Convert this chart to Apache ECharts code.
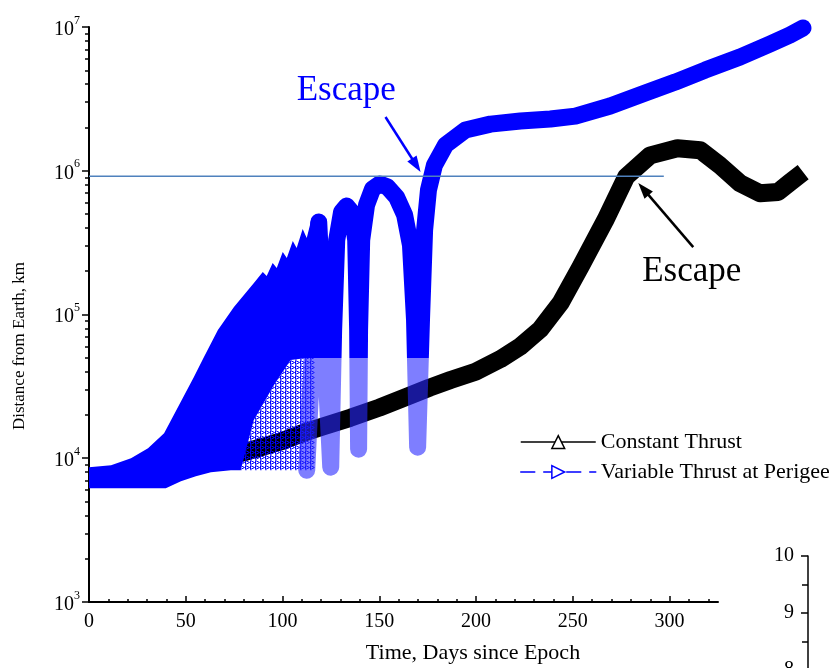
<!DOCTYPE html>
<html>
<head>
<meta charset="utf-8">
<script src="https://cdn.jsdelivr.net/npm/echarts@6/dist/echarts.min.js"></script>
<style>
  html, body { margin: 0; padding: 0; background: #ffffff; }
  #chart { width: 832px; height: 668px; }
</style>
</head>
<body>
<div id="chart"></div>
<script>
// ---------------- data ----------------
// Constant thrust: distance from Earth (km) vs time (days)
const ctDays = [0, 20, 40, 60, 80, 100, 109.4, 120, 135, 150, 165, 176, 186.8, 199.7, 212.6, 222.9, 233.2, 243.6, 253.9, 266.8, 277.6, 290, 304, 315.8, 326, 336.4, 346.7, 356, 362.2, 369];
const ctKm = [7200, 7600, 8400, 9500, 11000, 13200, 14800, 16500, 19100, 22500, 27000, 31000, 35000, 40000, 49000, 60000, 79000, 120000, 214000, 454000, 910000, 1280000, 1435000, 1390000, 1090000, 818000, 697000, 712000, 830000, 977000];

// Variable thrust at perigee: envelope of the many early orbits
const denseTopDays = [0, 11.4, 21.7, 30.5, 38.8, 46.0, 54.2, 59.4, 66.6, 74.9, 85.2, 89.8, 91.8, 94.9, 97.0, 100.1, 102.2, 105.3, 107.3, 110.4, 112.5, 115.1, 116.6];
const denseTopKm = [8670, 8950, 10000, 11750, 14950, 22700, 36700, 50600, 77900, 112600, 165400, 197200, 185000, 228000, 210400, 271800, 246900, 324300, 289700, 392900, 340200, 468700, 386600];
const perigeeDays = [0, 39.7, 47.5, 55.2, 63.0, 73.3, 116.6];
const perigeeKm = [6190, 6190, 6930, 7505, 8000, 8260, 8260];
// lower limit of the densely sampled part (below it only sparse perigee passes)
const floorDays = [0, 39.7, 47.5, 55.2, 63.0, 73.3, 78.4, 85.1, 95.5, 104.2, 116.6];
const floorKm = [6190, 6190, 6930, 7505, 8000, 8260, 8260, 18400, 32260, 48200, 50600];

// Variable thrust at perigee: last resolved orbits and escape path
const vtDays = [112.5, 118.7, 124.9, 126.4, 128.0, 130.5, 133.1, 135.7, 137.8, 138.8, 139.3, 139.8, 140.9, 143.4, 146.5, 150.2, 154.3, 158.9, 163.1, 166.1, 168.2, 169.8, 171.8, 173.4, 175.4, 178.5, 184.2, 194.5, 207.4, 222.9, 238.4, 251.3, 269.3, 287.4, 302.9, 318.4, 336.4, 351.9, 362.2, 368.9];
const vtKm = [8260, 439500, 8670, 77900, 329500, 516000, 568000, 516000, 329500, 77900, 11560, 77900, 329500, 577000, 746000, 808000, 770000, 656000, 492000, 304000, 91400, 11940, 91400, 386500, 734000, 1096000, 1510000, 1920000, 2110000, 2220000, 2290000, 2400000, 2820000, 3470000, 4140000, 5020000, 6180000, 7620000, 8800000, 9840000];

// Escape radius reference line
const soiDays = [0, 297];
const soiKm = [915000, 915000];

// Axis ticks
const xTickValues = [0, 50, 100, 150, 200, 250, 300];
const yDecades = [1e3, 1e4, 1e5, 1e6, 1e7];
const sideTickValues = [7, 8, 9, 10];

// ---------------- helpers ----------------
const SERIF = '"Liberation Serif", "Times New Roman", Times, serif';
const BLUE = '#0000ff';
const SPARSE_BLUE = 'rgba(40,40,255,0.6)';
const SPARSE_LIMIT_KM = 50000;
const zip = (a, b) => a.map((v, i) => [v, b[i]]);

const yMinor = [];
for (let e = 3; e < 7; e++) for (let k = 2; k <= 9; k++) yMinor.push(k * Math.pow(10, e));

// hollow right-pointing triangles used where perigee passes are sparse
const pat = document.createElement('canvas');
pat.width = 5; pat.height = 5;
(function () {
  const g = pat.getContext('2d');
  g.strokeStyle = BLUE; g.lineWidth = 1;
  g.beginPath(); g.moveTo(0.5, 0.5); g.lineTo(4.5, 2.5); g.lineTo(0.5, 4.5); g.closePath(); g.stroke();
})();

function bandRenderer(topD, topV, botD, botV, fill) {
  return function (params, api) {
    if (params.dataIndex !== 0) return null;
    const pts = [];
    for (let i = 0; i < topD.length; i++) pts.push(api.coord([topD[i], topV[i]]));
    for (let i = botD.length - 1; i >= 0; i--) pts.push(api.coord([botD[i], botV[i]]));
    return { type: 'polygon', shape: { points: pts }, style: { fill: fill, stroke: null } };
  };
}

const hollowFrom = 73.3;
const hfD = floorDays.filter(d => d >= hollowFrom);
const hfV = floorKm.filter((v, i) => floorDays[i] >= hollowFrom);
const hpD = perigeeDays.filter(d => d >= hollowFrom);
const hpV = perigeeKm.filter((v, i) => perigeeDays[i] >= hollowFrom);

// visible axis spans 0..325 days, plotted data run on to ~370 days at the same scale
const X_AXIS_MAX = 325;
const X_DATA_MAX = 370;
const PLOT_LEFT = 89, PLOT_RIGHT_EDGE = 718;
const pxPerDay = (PLOT_RIGHT_EDGE - PLOT_LEFT) / X_AXIS_MAX;

const chart = echarts.init(document.getElementById('chart'), null, { renderer: 'canvas' });

const axisBlack = { color: '#000', width: 2 };
const tickBlack = { color: '#000', width: 1.5 };

chart.setOption({
  animation: false,
  backgroundColor: '#ffffff',
  grid: [
    { left: PLOT_LEFT, width: PLOT_RIGHT_EDGE - PLOT_LEFT, top: 27, bottom: 66, outerBoundsMode: 'none' },
    { left: PLOT_LEFT, width: X_DATA_MAX * pxPerDay, top: 27, bottom: 66, outerBoundsMode: 'none' },
    { left: 808, top: 556, width: 100, height: 171, outerBoundsMode: 'none' }
  ],
  xAxis: [
    {
      type: 'value', gridIndex: 0, min: 0, max: X_AXIS_MAX, interval: 50,
      axisLine: { show: true, lineStyle: axisBlack },
      axisTick: { show: true, inside: true, length: 6, customValues: xTickValues, lineStyle: tickBlack },
      minorTick: { show: true, splitNumber: 5, length: 3, lineStyle: tickBlack },
      axisLabel: { customValues: xTickValues, fontFamily: SERIF, fontSize: 20, color: '#000', margin: 10 },
      splitLine: { show: false }
    },
    { type: 'value', gridIndex: 1, min: 0, max: X_DATA_MAX, show: false },
    { type: 'value', gridIndex: 2, min: 0, max: 1, show: false }
  ],
  yAxis: [
    {
      type: 'log', logBase: 10, gridIndex: 0, min: 1e3, max: 1e7,
      axisLine: { show: true, lineStyle: axisBlack },
      axisTick: { show: true, inside: false, length: 7, customValues: yDecades, lineStyle: tickBlack },
      axisLabel: {
        customValues: yDecades, margin: 9,
        formatter: v => '{b|10}{s|' + Math.round(Math.log10(v)) + '}',
        rich: {
          b: { fontFamily: SERIF, fontSize: 20, color: '#000', verticalAlign: 'bottom', padding: [5, 0, 0, 0] },
          s: { fontFamily: SERIF, fontSize: 12, color: '#000', verticalAlign: 'top' }
        }
      },
      splitLine: { show: false }
    },
    {
      type: 'log', logBase: 10, gridIndex: 0, min: 1e3, max: 1e7, position: 'left',
      axisLine: { show: false },
      axisTick: { show: true, inside: false, length: 4, customValues: yMinor, lineStyle: tickBlack },
      axisLabel: { show: false },
      splitLine: { show: false }
    },
    { type: 'log', logBase: 10, gridIndex: 1, min: 1e3, max: 1e7, show: false },
    {
      type: 'value', gridIndex: 2, min: 7, max: 10, interval: 1, position: 'left',
      axisLine: { show: true, lineStyle: tickBlack },
      axisTick: { show: true, inside: false, length: 7, lineStyle: tickBlack },
      minorTick: { show: true, splitNumber: 2, length: 6, lineStyle: tickBlack },
      axisLabel: { fontFamily: SERIF, fontSize: 20, color: '#000', margin: 14, customValues: sideTickValues },
      splitLine: { show: false }
    }
  ],
  legend: {
    orient: 'vertical', left: 515, top: 426,
    itemWidth: 75, itemHeight: 16, itemGap: 8,
    selectedMode: false,
    textStyle: { fontFamily: SERIF, fontSize: 22, color: '#000' },
    data: [
      { name: 'Constant Thrust', itemStyle: { color: '#fff', borderColor: '#000', borderWidth: 1.5 }, lineStyle: { color: '#000', width: 1.5, type: 'solid' } },
      { name: 'Variable Thrust at Perigee', itemStyle: { color: '#fff', borderColor: BLUE, borderWidth: 1.5 }, lineStyle: { color: BLUE, width: 1.5, type: [14, 9] } }
    ]
  },
  graphic: [
    { type: 'text', x: 473, y: 653, style: { text: 'Time, Days since Epoch', font: '22px ' + SERIF, fill: '#000', textAlign: 'center', textVerticalAlign: 'middle' } },
    { type: 'text', x: 20, y: 346, rotation: Math.PI / 2, style: { text: 'Distance from Earth, km', font: '17px ' + SERIF, fill: '#000', textAlign: 'center', textVerticalAlign: 'middle' } }
  ],
  series: [
    {
      id: 'vtOrbit', name: 'Variable Thrust at Perigee', type: 'line', z: 5,
      xAxisIndex: 1, yAxisIndex: 2,
      data: zip(vtDays, vtKm), silent: true,
      symbol: 'path://M0,0L10,5L0,10Z', showSymbol: false,
      lineStyle: { color: BLUE, width: 17, join: 'round', cap: 'round' }
    },
    {
      name: 'Variable Thrust at Perigee', type: 'custom', z: 5, silent: true,
      xAxisIndex: 1, yAxisIndex: 2,
      data: zip(denseTopDays, denseTopKm),
      renderItem: bandRenderer(denseTopDays, denseTopKm, floorDays, floorKm, BLUE)
    },
    {
      name: 'Variable Thrust at Perigee', type: 'custom', z: 3, silent: true,
      xAxisIndex: 1, yAxisIndex: 2,
      data: zip(hfD, hfV),
      renderItem: bandRenderer(hfD, hfV, hpD, hpV, { image: pat, repeat: 'repeat' })
    },
    {
      name: 'Constant Thrust', type: 'line', z: 1,
      xAxisIndex: 1, yAxisIndex: 2,
      data: zip(ctDays, ctKm), silent: true,
      symbol: 'triangle', showSymbol: false,
      itemStyle: { color: '#000' },
      lineStyle: { color: '#000', width: 18, join: 'round', cap: 'butt' }
    },
    {
      name: 'Escape radius', type: 'line', z: 6,
      xAxisIndex: 1, yAxisIndex: 2,
      data: zip(soiDays, soiKm), silent: true,
      symbol: 'none', showSymbol: false,
      lineStyle: { color: '#4f81bd', width: 1.5 },
      markLine: {
        silent: true, symbol: ['none', 'triangle'], symbolSize: [11, 16],
        label: { show: false },
        data: [
          [{ coord: [153.2, 2364000], lineStyle: { color: BLUE, width: 2.5, type: 'solid' }, itemStyle: { color: BLUE } }, { coord: [169.1, 1092000] }],
          [{ coord: [312.2, 294300], lineStyle: { color: '#000', width: 2.5, type: 'solid' }, itemStyle: { color: '#000' } }, { coord: [286.5, 745000] }]
        ]
      },
      markPoint: {
        silent: true, symbol: 'circle', symbolSize: 0,
        label: { show: true, position: 'inside', formatter: 'Escape', fontFamily: SERIF, fontSize: 35 },
        data: [
          { coord: [132.9, 3587000], label: { color: BLUE } },
          { coord: [311.4, 197900], label: { color: '#000' } }
        ]
      }
    }
  ]
});

// Perigee passes below the sparse limit are drawn lighter: split the stroke colour at that height
const yCut = chart.convertToPixel({ xAxisIndex: 1, yAxisIndex: 2 }, [0, SPARSE_LIMIT_KM])[1];
const H = chart.getHeight();
const cut = Math.min(1, Math.max(0, yCut / H));
chart.setOption({
  series: [{
    id: 'vtOrbit',
    lineStyle: {
      color: {
        type: 'linear', x: 0, y: 0, x2: 0, y2: H, global: true,
        colorStops: [
          { offset: 0, color: BLUE }, { offset: cut, color: BLUE },
          { offset: cut, color: SPARSE_BLUE }, { offset: 1, color: SPARSE_BLUE }
        ]
      }
    }
  }]
});
</script>
</body>
</html>
